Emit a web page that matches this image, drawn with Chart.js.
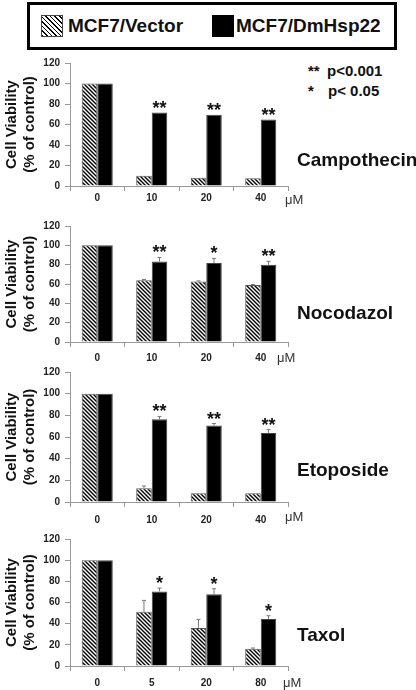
<!DOCTYPE html>
<html><head><meta charset="utf-8">
<script src="https://cdn.jsdelivr.net/npm/chart.js@4.4.1/dist/chart.umd.min.js"></script>
<style>
html,body{margin:0;padding:0;background:#fff;}
body{width:416px;height:690px;position:relative;overflow:hidden;font-family:"Liberation Sans",Arial,sans-serif;}
.abs{position:absolute;white-space:nowrap;}
canvas{position:absolute;left:0;}
#legend{left:27px;top:2px;width:370px;height:48px;border:3px solid #000;box-sizing:border-box;}
.sw{position:absolute;top:10px;width:22px;height:22px;box-sizing:border-box;}
.lt{position:absolute;top:9px;font-weight:bold;font-size:19px;line-height:24px;color:#111;}
.drug{font-weight:bold;font-size:19px;line-height:22px;color:#111;}
.um{font-size:13px;line-height:16px;color:#333;}
.pv{font-weight:bold;font-size:15px;line-height:18px;color:#111;}
</style></head><body>

<div id="legend" class="abs">
  <div class="sw" id="swHatch" style="left:11px;border:1px solid #444;background:repeating-linear-gradient(45deg,#000 0 1.3px,#fff 1.3px 3.2px);"></div>
  <div class="lt" id="lt0" style="left:38px;"></div>
  <div class="sw" style="left:182px;background:#000;"></div>
  <div class="lt" id="lt1" style="left:206px;"></div>
</div>

<div class="abs pv" style="left:308px;top:62px;">**</div>
<div class="abs pv" style="left:327px;top:62px;">p&lt;0.001</div>
<div class="abs pv" style="left:308px;top:82px;">*</div>
<div class="abs pv" style="left:328px;top:82px;">p&lt; 0.05</div>

<script>
// ---------- data ----------
const seriesNames = ['MCF7/Vector', 'MCF7/DmHsp22'];
const drugNames = ['Campothecin', 'Nocodazol', 'Etoposide', 'Taxol'];
const doseUnit = 'μM';
const yTicks = [0, 20, 40, 60, 80, 100, 120];
const yAxisTitle = ['Cell Viability', '(% of control)'];

const campDoses = ['0', '10', '20', '40'];
const campVector = [100, 10, 8, 7.5];
const campHsp = [100, 71.7, 69.5, 64.8];
const campVectorErr = [0, 0, 0, 0];
const campHspErr = [0, 0, 0, 0];
const campSig = ['', '**', '**', '**'];

const nocoDoses = ['0', '10', '20', '40'];
const nocoVector = [100, 64, 62.7, 59];
const nocoHsp = [100, 83.2, 81.8, 79.9];
const nocoVectorErr = [0, 0.6, 0.5, 0.5];
const nocoHspErr = [0, 4.3, 4.7, 3.6];
const nocoSig = ['', '**', '*', '**'];

const etoDoses = ['0', '10', '20', '40'];
const etoVector = [100, 12.8, 8, 8];
const etoHsp = [100, 76.3, 70.6, 63.8];
const etoVectorErr = [0, 2, 0, 0];
const etoHspErr = [0, 2.7, 1.8, 3];
const etoSig = ['', '**', '**', '**'];

const taxDoses = ['0', '5', '20', '80'];
const taxVector = [100, 51.2, 36, 16.3];
const taxHsp = [100, 70.5, 67.8, 44.5];
const taxVectorErr = [0, 10.8, 8, 0.7];
const taxHspErr = [0, 3.1, 5.2, 3];
const taxSig = ['', '*', '*', '*'];

// ---------- layout (not data) ----------
const panels = [
  {doses: campDoses, vec: campVector, hsp: campHsp, vecErr: campVectorErr, hspErr: campHspErr, sig: campSig,
   top: 52, plotH: 126, tickPad: 1, drugTop: 149, umLeft: 285, umTop: 192},
  {doses: nocoDoses, vec: nocoVector, hsp: nocoHsp, vecErr: nocoVectorErr, hspErr: nocoHspErr, sig: nocoSig,
   top: 215, plotH: 119, tickPad: 5, drugTop: 302, umLeft: 277, umTop: 350},
  {doses: etoDoses, vec: etoVector, hsp: etoHsp, vecErr: etoVectorErr, hspErr: etoHspErr, sig: etoSig,
   top: 361, plotH: 133, tickPad: 7, drugTop: 459, umLeft: 285, umTop: 509},
  {doses: taxDoses, vec: taxVector, hsp: taxHsp, vecErr: taxVectorErr, hspErr: taxHspErr, sig: taxSig,
   top: 528, plotH: 130, tickPad: 6, drugTop: 624, umLeft: 283, umTop: 675},
];

document.getElementById('lt0').textContent = seriesNames[0];
document.getElementById('lt1').textContent = seriesNames[1];

function makeHatch() {
  const s = 4;
  const c = document.createElement('canvas');
  c.width = s; c.height = s;
  const g = c.getContext('2d');
  g.fillStyle = '#fff'; g.fillRect(0, 0, s, s);
  g.strokeStyle = '#000'; g.lineWidth = 1.4;
  for (const k of [-s, 0, s]) {
    g.beginPath(); g.moveTo(-1, k - 1); g.lineTo(s + 1, s + k + 1); g.stroke();
  }
  return g.createPattern(c, 'repeat');
}

const FONT = '"Liberation Sans", Arial, sans-serif';
const X_AXIS_H = 30;

const errStarPlugin = {
  id: 'errStar',
  afterDatasetsDraw(chart, args, opts) {
    const ctx = chart.ctx;
    const ys = chart.scales.y;
    const errs = [opts.vecErr, opts.hspErr];
    ctx.save();
    for (let d = 0; d < 2; d++) {
      const meta = chart.getDatasetMeta(d);
      const vals = chart.data.datasets[d].data;
      meta.data.forEach((bar, i) => {
        const e = errs[d][i];
        const yTop = ys.getPixelForValue(vals[i] + e);
        if (e > 0) {
          ctx.strokeStyle = '#777';
          ctx.lineWidth = 1;
          ctx.beginPath();
          ctx.moveTo(bar.x, bar.y);
          ctx.lineTo(bar.x, yTop);
          ctx.moveTo(bar.x - 2, yTop);
          ctx.lineTo(bar.x + 2, yTop);
          ctx.stroke();
        }
        if (d === 1 && opts.sig[i]) {
          ctx.fillStyle = '#111';
          ctx.font = 'bold 18px ' + FONT;
          ctx.textAlign = 'center';
          ctx.textBaseline = 'alphabetic';
          ctx.fillText(opts.sig[i], bar.x, yTop + 1);
        }
      });
    }
    ctx.restore();
  }
};

const hatch = makeHatch();

panels.forEach((p, idx) => {
  const cv = document.createElement('canvas');
  const h = 8 + p.plotH + X_AXIS_H;
  cv.width = 416; cv.height = h;
  cv.style.top = p.top + 'px';
  cv.style.width = '416px'; cv.style.height = h + 'px';
  document.body.appendChild(cv);

  const dl = document.createElement('div');
  dl.className = 'abs drug';
  dl.style.left = '297px'; dl.style.top = p.drugTop + 'px';
  dl.textContent = drugNames[idx];
  document.body.appendChild(dl);

  const um = document.createElement('div');
  um.className = 'abs um';
  um.style.left = p.umLeft + 'px'; um.style.top = p.umTop + 'px';
  um.textContent = doseUnit;
  document.body.appendChild(um);

  new Chart(cv, {
    type: 'bar',
    data: {
      labels: p.doses,
      datasets: [
        {label: seriesNames[0], data: p.vec, backgroundColor: hatch, borderColor: '#555', borderWidth: 1,
         categoryPercentage: 0.57, barPercentage: 1},
        {label: seriesNames[1], data: p.hsp, backgroundColor: '#000', borderColor: '#444', borderWidth: 1,
         categoryPercentage: 0.57, barPercentage: 1},
      ]
    },
    options: {
      responsive: false,
      animation: false,
      devicePixelRatio: 1,
      layout: {padding: {top: 8, right: 128, left: 0, bottom: 0}},
      plugins: {
        legend: {display: false},
        tooltip: {enabled: false},
        errStar: {vecErr: p.vecErr, hspErr: p.hspErr, sig: p.sig},
      },
      scales: {
        x: {
          grid: {display: true, drawOnChartArea: false, drawTicks: true, tickLength: 5, color: '#999', offset: true},
          border: {display: true, color: '#999', width: 1},
          ticks: {color: '#222', font: {family: FONT, size: 10, weight: 'bold'}, padding: p.tickPad, maxRotation: 0},
          afterFit(s) { s.height = X_AXIS_H; }
        },
        y: {
          min: yTicks[0], max: yTicks[yTicks.length - 1],
          afterBuildTicks(s) { s.ticks = yTicks.map(v => ({value: v})); },
          grid: {display: true, drawOnChartArea: false, drawTicks: true, tickLength: 5, color: '#999'},
          border: {display: true, color: '#999', width: 1},
          ticks: {color: '#222', font: {family: FONT, size: 10, weight: 'bold'}, padding: 5},
          title: {display: true, text: yAxisTitle, color: '#111',
                  font: {family: FONT, size: 15, weight: 'bold', lineHeight: 1.2}, padding: {top: 3, bottom: 0}},
          afterFit(s) { s.width = 70; }
        }
      }
    },
    plugins: [errStarPlugin]
  });
});
</script>
</body></html>
